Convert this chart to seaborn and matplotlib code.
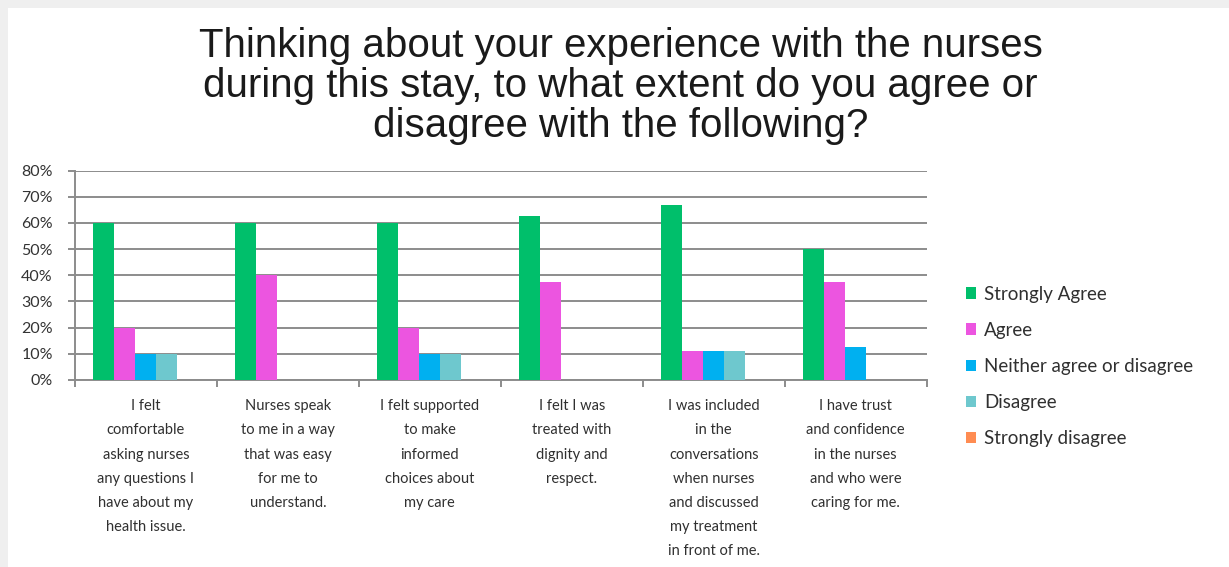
import matplotlib
matplotlib.use("Agg")
import matplotlib.pyplot as plt
from matplotlib.patches import Patch, Rectangle
from matplotlib.ticker import FixedLocator, PercentFormatter
import seaborn as sns
import pandas as pd

# Survey statements (wrapped as shown under each group)
statements = [
    "I felt\ncomfortable\nasking nurses\nany questions I\nhave about my\nhealth issue.",
    "Nurses speak\nto me in a way\nthat was easy\nfor me to\nunderstand.",
    "I felt supported\nto make\ninformed\nchoices about\nmy care",
    "I felt I was\ntreated with\ndignity and\nrespect.",
    "I was included\nin the\nconversations\nwhen nurses\nand discussed\nmy treatment\nin front of me.",
    "I have trust\nand confidence\nin the nurses\nand who were\ncaring for me.",
]

responses = ["Strongly Agree", "Agree", "Neither agree or disagree",
             "Disagree", "Strongly disagree"]

# Percent of respondents per statement
strongly_agree = [60.0, 60.0, 60.0, 62.5, 66.7, 50.0]
agree = [20.0, 40.0, 20.0, 37.5, 11.1, 37.5]
neither = [10.0, 0.0, 10.0, 0.0, 11.1, 12.5]
disagree = [10.0, 0.0, 10.0, 0.0, 11.1, 0.0]
strongly_disagree = [0.0, 0.0, 0.0, 0.0, 0.0, 0.0]

colors = ["#00BF6B", "#EC55E0", "#00B0F0", "#6EC8CE", "#FF8C52"]

series = [strongly_agree, agree, neither, disagree, strongly_disagree]
rows = []
for resp, vals in zip(responses, series):
    for stmt, v in zip(statements, vals):
        rows.append({"statement": stmt, "response": resp, "pct": v})
df = pd.DataFrame(rows)

sns.set_theme(style="white")
plt.rcParams["font.family"] = ["Lato", "DejaVu Sans"]

fig = plt.figure(figsize=(12.29, 5.67), dpi=100)
fig.patch.set_facecolor("white")

# soft frame along the top and left edges
fig.add_artist(Rectangle((0, 0.986), 1, 0.014, transform=fig.transFigure,
                         facecolor="#efefef", edgecolor="none", zorder=0))
fig.add_artist(Rectangle((0, 0), 0.0065, 1, transform=fig.transFigure,
                         facecolor="#efefef", edgecolor="none", zorder=0))

ax = fig.add_axes([0.061, 0.330, 0.693, 0.369])

sns.barplot(data=df, x="statement", y="pct", hue="response",
            order=statements, hue_order=responses, palette=colors,
            width=0.74, dodge=True, saturation=1, errorbar=None,
            linewidth=0, legend=False, ax=ax, zorder=3)

ax.set_xlim(-0.5, len(statements) - 0.5)
ax.set_ylim(0, 80)
ax.yaxis.set_major_locator(FixedLocator(range(0, 81, 10)))
ax.yaxis.set_major_formatter(PercentFormatter(decimals=0))
ax.grid(axis="y", color="#8c8c8c", linewidth=1.4, zorder=0)
ax.set_axisbelow(True)

for side in ("top", "right"):
    ax.spines[side].set_visible(False)
for side in ("left", "bottom"):
    ax.spines[side].set_color("#8c8c8c")
    ax.spines[side].set_linewidth(1.4)

ax.set_xlabel("")
ax.set_ylabel("")

# category boundaries as minor ticks, labels centred
ax.set_xticks([i - 0.5 for i in range(len(statements) + 1)], minor=True)
ax.tick_params(axis="x", which="minor", length=5, width=1.4,
               color="#8c8c8c", direction="out", bottom=True)
ax.tick_params(axis="x", which="major", length=0, pad=14)
ax.tick_params(axis="y", which="major", length=5, width=1.4,
               color="#8c8c8c", direction="out", left=True, pad=11,
               labelsize=11.5, labelcolor="#333333")
for lab in ax.get_xticklabels():
    lab.set_fontsize(10.5)
    lab.set_color("#303030")
    lab.set_linespacing(1.92)
    lab.set_ha("center")
    lab.set_va("top")

handles = [Patch(facecolor=c, edgecolor="none", label=r)
           for c, r in zip(colors, responses)]
fig.legend(handles=handles, loc="upper left",
           bbox_to_anchor=(0.772, 0.526), frameon=False,
           fontsize=13.5, labelcolor="#303030",
           handlelength=0.55, handleheight=0.55, handletextpad=0.45,
           labelspacing=1.02)

fig.text(0.505, 0.953,
         "Thinking about your experience with the nurses\n"
         "during this stay, to what extent do you agree or\n"
         "disagree with the following?",
         ha="center", va="top", fontsize=29, color="#1a1a1a",
         family=["Liberation Sans", "DejaVu Sans"], linespacing=1.07)

fig.savefig("out.png", dpi=100, facecolor="white")
